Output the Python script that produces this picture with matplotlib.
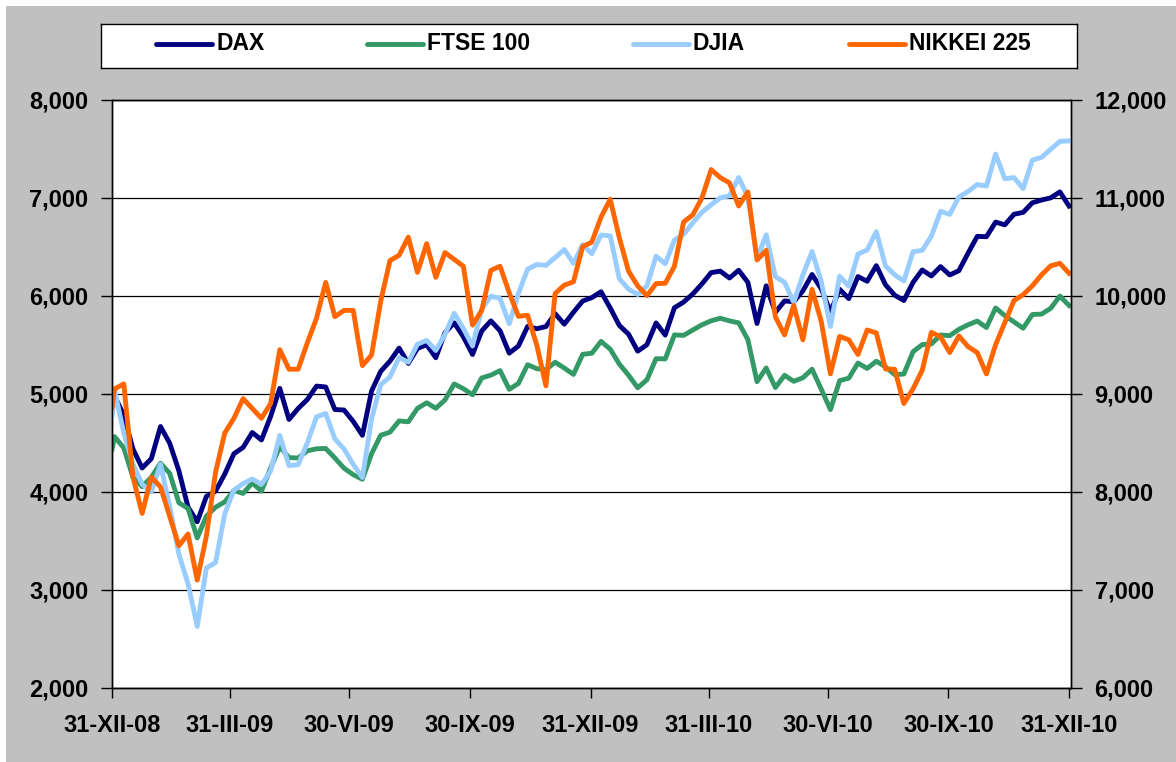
import matplotlib.pyplot as plt
import pandas as pd
from matplotlib.patches import Rectangle
from matplotlib.ticker import FuncFormatter

plt.rcParams['font.family'] = ['Liberation Sans', 'DejaVu Sans']
plt.rcParams['font.weight'] = 'bold'
plt.rcParams['lines.solid_joinstyle'] = 'round'

# 31-XII-08 plus weekly Friday closes through 31-XII-10
dates = pd.DatetimeIndex(['2008-12-31']).append(
    pd.date_range('2009-01-02', '2010-12-31', freq='W-FRI'))

# left axis
dax = [4810,
       4974, 4783, 4436, 4243, 4338, 4666, 4496, 4215, 3844, 3695,
       3953, 4008, 4181, 4389, 4453, 4605, 4529, 4769, 5055, 4738,
       4850, 4941, 5078, 5069, 4839, 4834, 4718, 4576, 5028, 5229,
       5332, 5465, 5309, 5462, 5500, 5367, 5623, 5723, 5581, 5400,
       5640, 5743, 5642, 5414, 5487, 5686, 5663, 5685, 5817, 5709,
       5831, 5945, 5980, 6040, 5875, 5696, 5608, 5434, 5500, 5722,
       5598, 5877, 5935, 6017, 6120, 6235, 6250, 6180, 6259, 6136,
       5716, 6100, 5830, 5946, 5938, 6049, 6216, 6070, 5834, 6065,
       5970, 6195, 6147, 6306, 6111, 6005, 5951, 6135, 6262, 6201,
       6296, 6211, 6255, 6434, 6605, 6601, 6750, 6722, 6830, 6849,
       6947, 6975, 6997, 7058, 6914]
ftse = [4434,
        4562, 4448, 4147, 4053, 4149, 4291, 4189, 3889, 3830, 3530,
        3753, 3843, 3898, 4014, 3984, 4092, 4007, 4243, 4461, 4349,
        4345, 4418, 4439, 4442, 4345, 4241, 4175, 4128, 4389, 4577,
        4608, 4723, 4714, 4851, 4908, 4852, 4937, 5100, 5052, 4989,
        5161, 5190, 5236, 5045, 5105, 5296, 5256, 5245, 5322, 5262,
        5197, 5402, 5413, 5534, 5455, 5302, 5189, 5061, 5142, 5358,
        5355, 5600, 5595, 5650, 5703, 5744, 5770, 5743, 5723, 5553,
        5123, 5263, 5063, 5188, 5127, 5163, 5250, 5047, 4838, 5133,
        5159, 5313, 5258, 5332, 5275, 5195, 5201, 5428, 5501, 5508,
        5599, 5592, 5657, 5703, 5741, 5675, 5875, 5797, 5733, 5668,
        5808, 5812, 5871, 5996, 5900]

# right axis
djia = [8776,
        9034, 8599, 8281, 8077, 8001, 8280, 7850, 7366, 7063, 6627,
        7224, 7279, 7776, 8018, 8083, 8131, 8076, 8212, 8575, 8268,
        8277, 8500, 8764, 8799, 8539, 8438, 8280, 8146, 8743, 9093,
        9171, 9370, 9321, 9505, 9544, 9441, 9605, 9820, 9665, 9487,
        9865, 9995, 9972, 9713, 10023, 10270, 10318, 10309, 10388, 10471,
        10329, 10520, 10428, 10618, 10610, 10172, 10067, 10012, 10099, 10402,
        10325, 10566, 10625, 10742, 10850, 10927, 10997, 11019, 11204, 11009,
        10380, 10620, 10193, 10137, 9931, 10212, 10450, 10144, 9686, 10198,
        10097, 10424, 10466, 10653, 10303, 10213, 10150, 10448, 10462, 10607,
        10860, 10829, 11006, 11062, 11133, 11118, 11444, 11192, 11204, 11092,
        11382, 11410, 11492, 11573, 11578]
nikkei = [8860,
          9050, 9100, 8150, 7780, 8150, 8050, 7750, 7450, 7570, 7100,
          7550, 8200, 8600, 8750, 8950, 8850, 8750, 8900, 9449, 9250,
          9250, 9520, 9770, 10135, 9786, 9850, 9850, 9287, 9395, 9945,
          10357, 10412, 10597, 10238, 10530, 10187, 10440, 10370, 10300, 9700,
          9850, 10258, 10300, 10030, 9789, 9800, 9497, 9081, 10022, 10107,
          10142, 10500, 10546, 10800, 10983, 10590, 10250, 10100, 10000, 10123,
          10126, 10300, 10751, 10824, 10996, 11286, 11204, 11150, 10914, 11057,
          10364, 10462, 9784, 9600, 9901, 9550, 10064, 9737, 9203, 9585,
          9550, 9400, 9650, 9620, 9253, 9250, 8900, 9050, 9239, 9626,
          9580, 9420, 9589, 9480, 9420, 9202, 9500, 9725, 9950, 10010,
          10100, 10212, 10304, 10330, 10229]

quarter_ends = pd.to_datetime(['2008-12-31', '2009-03-31', '2009-06-30',
                               '2009-09-30', '2009-12-31', '2010-03-31',
                               '2010-06-30', '2010-09-30', '2010-12-31'])
quarter_labels = ['31-XII-08', '31-III-09', '30-VI-09', '30-IX-09',
                  '31-XII-09', '31-III-10', '30-VI-10', '30-IX-10',
                  '31-XII-10']

series_names = ['DAX', 'FTSE 100', 'DJIA', 'NIKKEI 225']
series_colors = ['#000080', '#339966', '#99CCFF', '#FF6600']

W, H = 1176, 762
fig = plt.figure(figsize=(W / 100, H / 100), dpi=100)
fig.patch.set_facecolor('white')
fig.add_artist(Rectangle((6 / W, 0), (W - 6) / W, (H - 6) / H,
                         transform=fig.transFigure, facecolor='#C0C0C0',
                         edgecolor='none', zorder=-10))

ax = fig.add_axes([112 / W, (H - 688) / H, 959 / W, 588.5 / H])
ax.set_facecolor('white')
ax.plot(dates, dax, color=series_colors[0], lw=3.5)
ax.plot(dates, ftse, color=series_colors[1], lw=3.5)
ax.set_ylim(2000, 8000)
ax.set_xlim(pd.Timestamp('2008-12-31'), pd.Timestamp('2011-01-01 12:00'))
ax.set_yticks(range(2000, 8001, 1000))
thousands = FuncFormatter(lambda v, p: f'{int(v):,}')
ax.yaxis.set_major_formatter(thousands)
ax.grid(axis='y', color='black', lw=0.9)
ax.set_xticks(quarter_ends)
ax.set_xticklabels(quarter_labels)
ax.tick_params(axis='y', direction='out', length=8, width=1, pad=9,
               labelsize=17)
ax.tick_params(axis='x', direction='out', length=7, width=1, pad=12,
               labelsize=17)

ax2 = ax.twinx()
ax2.plot(dates, djia, color=series_colors[2], lw=3.5)
ax2.plot(dates, nikkei, color=series_colors[3], lw=3.5)
ax2.set_ylim(6000, 12000)
ax2.set_yticks(range(6000, 12001, 1000))
ax2.yaxis.set_major_formatter(thousands)
ax2.tick_params(axis='y', direction='out', length=8, width=1, pad=9,
                labelsize=17)
for a in (ax, ax2):
    for sp in a.spines.values():
        sp.set_color('black')
        sp.set_linewidth(1)

# legend box across the top
lax = fig.add_axes([101 / W, (H - 68) / H, 976 / W, 44 / H])
lax.set_xlim(101, 1077)
lax.set_ylim(68, 24)
lax.set_xticks([])
lax.set_yticks([])
for sp in lax.spines.values():
    sp.set_color('black')
    sp.set_linewidth(1)
for name, color, x0 in zip(series_names, series_colors, [156, 367, 633, 849]):
    lax.plot([x0, x0 + 56], [44, 44], color=color, lw=3.5,
             solid_capstyle='round')
    lax.text(x0 + 60, 44, name, va='center', ha='left', fontsize=16.5,
             fontweight='bold')

fig.savefig('out.png', dpi=100, facecolor=fig.get_facecolor())
